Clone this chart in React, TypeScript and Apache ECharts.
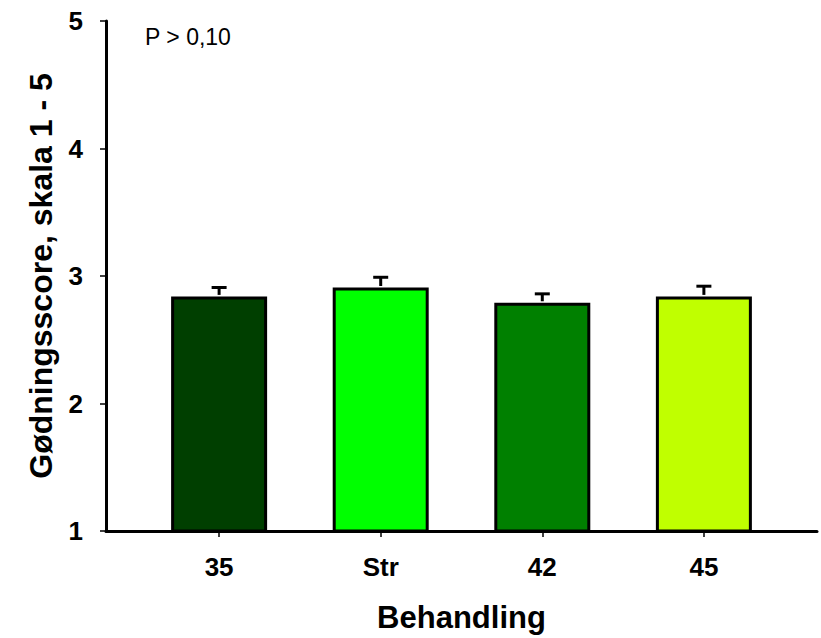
import React, { useEffect, useRef } from "react";
import * as echarts from "echarts";

// Treatments on the x axis
const categories: string[] = ["35", "Str", "42", "45"];
// Mean fertilisation score per treatment
const means: number[] = [2.84, 2.91, 2.79, 2.84];
// Upper end of each error bar
const upper: number[] = [2.91, 2.99, 2.86, 2.92];
// Fill colour for each treatment
const colors: string[] = ["#003f00", "#00ff00", "#008000", "#c0ff00"];
// Y-axis ticks
const yTicks: number[] = [1, 2, 3, 4, 5];

const FONT = '"Liberation Sans", Arial, Helvetica, sans-serif';

export default function App() {
  const ref = useRef<HTMLDivElement | null>(null);

  useEffect(() => {
    if (!ref.current) return;
    const chart = echarts.init(ref.current, undefined, { renderer: "svg" });
    const positions = categories.map((_, i) => i + 1);

    const barData = means.map((v, i) => ({
      value: [positions[i], v],
      itemStyle: { color: colors[i] },
    }));
    const errData = means.map((v, i) => [positions[i], v, upper[i]]);

    chart.setOption({
      animation: false,
      backgroundColor: "#ffffff",
      textStyle: { fontFamily: FONT },
      grid: { left: 106, right: 4, top: 21, bottom: 106, containLabel: false },
      xAxis: {
        type: "value",
        min: 0.3,
        max: 4.7,
        name: "Behandling",
        nameLocation: "middle",
        nameGap: 71,
        nameTextStyle: { fontFamily: FONT, fontWeight: "bold", fontSize: 31, color: "#000" },
        splitLine: { show: false },
        axisLine: { show: true, onZero: false, lineStyle: { color: "#000", width: 3 } },
        axisTick: {
          show: true,
          customValues: positions,
          length: 6,
          inside: false,
          lineStyle: { color: "#000", width: 1.5 },
        },
        axisLabel: {
          customValues: positions,
          formatter: (v: number) => categories[Math.round(v) - 1] ?? "",
          fontFamily: FONT,
          fontWeight: "bold",
          fontSize: 26,
          color: "#000",
          margin: 23,
        },
      },
      yAxis: {
        type: "value",
        min: yTicks[0],
        max: yTicks[yTicks.length - 1],
        interval: 1,
        name: "Gødningsscore, skala 1 - 5",
        nameLocation: "middle",
        nameGap: 49,
        nameRotate: 90,
        nameTextStyle: { fontFamily: FONT, fontWeight: "bold", fontSize: 32, color: "#000" },
        splitLine: { show: false },
        axisLine: { show: true, lineStyle: { color: "#000", width: 3 } },
        axisTick: { show: true, length: 6, inside: false, lineStyle: { color: "#000", width: 1.5 } },
        axisLabel: {
          fontFamily: FONT,
          fontWeight: "bold",
          fontSize: 26,
          color: "#000",
          margin: 23,
        },
      },
      series: [
        {
          type: "bar",
          data: barData,
          barWidth: 96,
          clip: true,
          itemStyle: { borderColor: "#000", borderWidth: 3 },
        },
        {
          type: "custom",
          data: errData,
          z: 3,
          renderItem: (_params: any, api: any) => {
            const x = api.value(0);
            const base = api.coord([x, api.value(1)]);
            const top = api.coord([x, api.value(2)]);
            const half = 7.5;
            const style = { stroke: "#000", lineWidth: 3 };
            return {
              type: "group",
              children: [
                { type: "line", shape: { x1: base[0], y1: base[1] - 1.5, x2: top[0], y2: top[1] }, style },
                { type: "line", shape: { x1: top[0] - half, y1: top[1], x2: top[0] + half, y2: top[1] }, style },
              ],
            };
          },
        },
      ],
      graphic: [
        {
          type: "text",
          left: 145,
          top: 25,
          style: { text: "P > 0,10", fontFamily: FONT, fontSize: 23, fill: "#000" },
        },
      ],
    });

    return () => chart.dispose();
  }, []);

  return (
    <div
      ref={ref}
      style={{ position: "fixed", left: 0, top: 0, width: 821, height: 638, background: "#fff" }}
    />
  );
}
